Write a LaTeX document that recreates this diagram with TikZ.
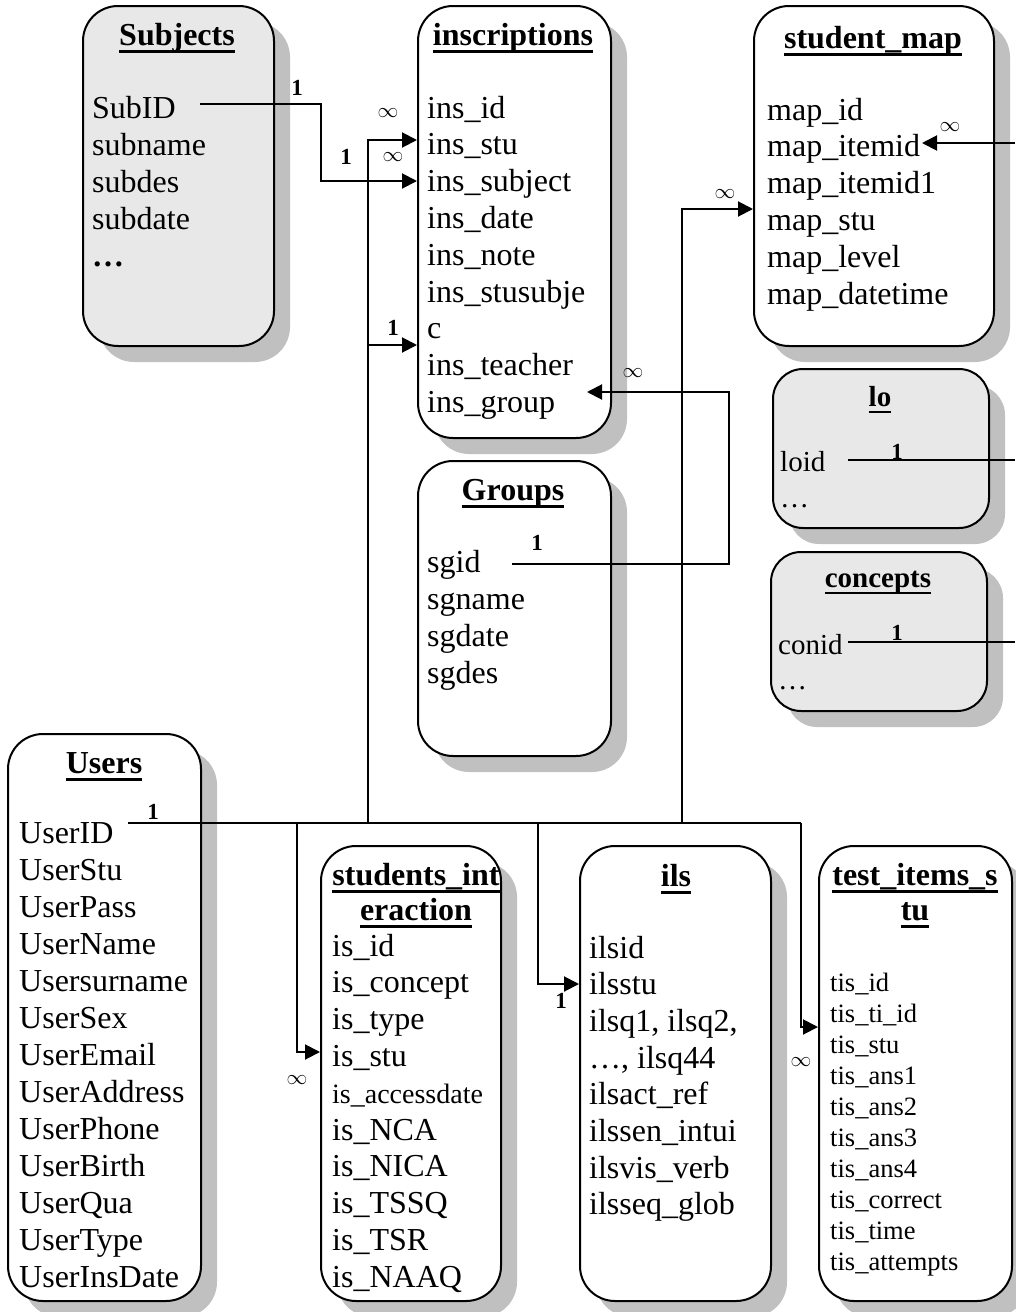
\documentclass[tikz,border=0pt]{standalone}
\usepackage{fontspec}
\setmainfont{Liberation Serif}
\usetikzlibrary{arrows.meta,shadows}
\definecolor{shade}{HTML}{C0C0C0}
\definecolor{lightfill}{HTML}{E8E8E8}
\newcommand{\ult}[1]{\setbox0\hbox{#1}\rlap{\rule[-0.24em]{\wd0}{0.08em}}\box0}
\begin{document}
\begin{tikzpicture}[x=1pt,y=-1pt,
 tbl/.style={draw=black, line width=2pt, rounded corners=35pt, fill=white, anchor=north west, inner sep=0pt,
   drop shadow={shadow xshift=16pt,shadow yshift=-16pt,fill=shade,opacity=1}},
 ttl/.style={anchor=base, inner sep=0pt, font=\fontsize{32}{36}\selectfont\bfseries},
 sttl/.style={anchor=base, inner sep=0pt, font=\fontsize{29}{33}\selectfont\bfseries},
 fld/.style={anchor=base west, inner sep=0pt, font=\fontsize{32}{36}\selectfont},
 sfld/.style={anchor=base west, inner sep=0pt, font=\fontsize{29}{33}\selectfont},
 tfld/.style={anchor=base west, inner sep=0pt, font=\fontsize{26.5}{30}\selectfont},
 one/.style={inner sep=0pt, font=\fontsize{23}{26}\selectfont\bfseries},
 many/.style={inner sep=0pt, font=\fontsize{20}{22}\selectfont},
 conn/.style={line width=2pt},
 arr/.style={conn, -{Triangle[length=15pt,width=15pt]}}
]
\useasboundingbox[fill=white] (0,0) rectangle (1015,1312);

% ---------- tables ----------
\node[tbl, fill=lightfill, minimum width=191pt, minimum height=340pt] (subj) at (82,5) {};
\node[tbl, minimum width=193pt, minimum height=432pt] (insc) at (417,5) {};
\node[tbl, minimum width=240pt, minimum height=340pt] (smap) at (753,5) {};
\node[tbl, fill=lightfill, rounded corners=30pt, minimum width=216pt, minimum height=159pt] (lo) at (772,368) {};
\node[tbl, fill=lightfill, rounded corners=30pt, minimum width=216pt, minimum height=159pt] (conc) at (770,551) {};
\node[tbl, minimum width=193pt, minimum height=295pt] (grp) at (417,460) {};
\node[tbl, minimum width=193pt, minimum height=567pt] (users) at (7,733) {};
\node[tbl, minimum width=180pt, minimum height=455pt] (sint) at (320,845) {};
\node[tbl, minimum width=191pt, minimum height=455pt] (ils) at (579,845) {};
\node[tbl, minimum width=193pt, minimum height=455pt] (tis) at (818,845) {};

% ---------- titles ----------
\node[ttl] (subjT) at (177,45) {\ult{Subjects}};
\node[ttl] (inscT) at (513,45) {\ult{inscriptions}};
\node[ttl] (smapT) at (873,48) {\ult{student\_map}};
\node[sttl] (loT) at (880,406) {\ult{lo}};
\node[sttl] (concT) at (878,587) {\ult{concepts}};
\node[ttl] (grpT) at (513,500) {\ult{Groups}};
\node[ttl] (usersT) at (104,773) {\ult{Users}};
\node[ttl] (sintT) at (416,885) {\ult{students\_int}};
\node[ttl] (sintT2) at (416,920) {\ult{eraction}};
\node[ttl] (ilsT) at (676,886) {\ult{ils}};
\node[ttl] (tisT) at (915,885) {\ult{test\_items\_s}};
\node[ttl] (tisT2) at (915,920) {\ult{tu}};

% ---------- fields ----------
\foreach \t [count=\i] in {SubID,subname,subdes,subdate,\textbf{…}}
  \node[fld] (sub\i) at (92,{118+(\i-1)*37}) {\t};
\foreach \t [count=\i] in {ins\_id,ins\_stu,ins\_subject,ins\_date,ins\_note,ins\_stusubje,c,ins\_teacher,ins\_group}
  \node[fld] (ins\i) at (427,{118+(\i-1)*36.8}) {\t};
\foreach \t [count=\i] in {map\_id,map\_itemid,map\_itemid1,map\_stu,map\_level,map\_datetime}
  \node[fld] (map\i) at (767,{120+(\i-1)*36.8}) {\t};
\node[sfld] (lo1) at (780,471) {loid};
\node[sfld] (lo2) at (780,507) {…};
\node[sfld] (con1) at (778,654) {conid};
\node[sfld] (con2) at (778,689) {…};
\foreach \t [count=\i] in {sgid,sgname,sgdate,sgdes}
  \node[fld] (sg\i) at (427,{572+(\i-1)*37}) {\t};
\foreach \t [count=\i] in {UserID,UserStu,UserPass,UserName,Usersurname,UserSex,UserEmail,UserAddress,UserPhone,UserBirth,UserQua,UserType,UserInsDate}
  \node[fld] (us\i) at (19,{843+(\i-1)*37}) {\t};
\foreach \t [count=\i] in {is\_id,is\_concept,is\_type,is\_stu,{\fontsize{28}{32}\selectfont is\_accessdate},is\_NCA,is\_NICA,is\_TSSQ,is\_TSR,is\_NAAQ}
  \node[fld] (is\i) at (332,{956+(\i-1)*36.8}) {\t};
\foreach \t [count=\i] in {ilsid,ilsstu,{ilsq1, ilsq2,},{…, ilsq44},ilsact\_ref,ilssen\_intui,ilsvis\_verb,ilsseq\_glob}
  \node[fld] (il\i) at (589,{958+(\i-1)*36.7}) {\t};
\foreach \t [count=\i] in {tis\_id,tis\_ti\_id,tis\_stu,tis\_ans1,tis\_ans2,tis\_ans3,tis\_ans4,tis\_correct,tis\_time,tis\_attempts}
  \node[tfld] (ti\i) at (830,{991+(\i-1)*31.1}) {\t};

% ---------- connector points ----------
\coordinate (a1) at (200,104);  \coordinate (a2) at (321,104);
\coordinate (a3) at (321,181);  \coordinate (a4) at (417,181);
\coordinate (u0) at (128,823);  \coordinate (u1) at (297,823);
\coordinate (u2) at (368,823);  \coordinate (u3) at (538,823);
\coordinate (u4) at (682,823);  \coordinate (u5) at (801,823);
\coordinate (p1) at (297,1052); \coordinate (q1) at (320,1052);
\coordinate (p2) at (368,140);  \coordinate (q2) at (417,140);
\coordinate (p2b) at (368,345); \coordinate (q2b) at (417,345);
\coordinate (p3) at (538,984);  \coordinate (q3) at (579,984);
\coordinate (p4) at (682,209);  \coordinate (q4) at (753,209);
\coordinate (p5) at (801,1027); \coordinate (q5) at (818,1027);
\coordinate (g0) at (512,564);  \coordinate (g1) at (729,564);
\coordinate (g2) at (729,392);  \coordinate (g3) at (587,392);
\coordinate (m0) at (1015,143); \coordinate (m1) at (922,143);
\coordinate (l0) at (848,460);  \coordinate (l1) at (1015,460);
\coordinate (k0) at (848,642);  \coordinate (k1) at (1015,642);

% ---------- connectors ----------
\draw[arr] (a1) -- (a2) -- (a3) -- (a4);
\draw[conn] (u0) -- (u5);
\draw[arr] (u1) -- (p1) -- (q1);
\draw[arr] (u2) -- (p2) -- (q2);
\draw[arr] (p2b) -- (q2b);
\draw[arr] (u3) -- (p3) -- (q3);
\draw[arr] (u4) -- (p4) -- (q4);
\draw[arr] (u5) -- (p5) -- (q5);
\draw[arr] (g0) -- (g1) -- (g2) -- (g3);
\draw[arr] (m0) -- (m1);
\draw[conn] (l0) -- (l1);
\draw[conn] (k0) -- (k1);

% ---------- cardinality labels ----------
\node[one] (n1) at (297,88) {1};
\node[one] (n2) at (346,157) {1};
\node[one] (n3) at (393,328) {1};
\node[one] (n4) at (153,812) {1};
\node[one] (n5) at (561,1001) {1};
\node[one] (n6) at (537,543) {1};
\node[one] (n7) at (897,452) {1};
\node[one] (n8) at (897,633) {1};
\node[many] (m1l) at (388,113) {$\infty$};
\node[many] (m2l) at (393,157) {$\infty$};
\node[many] (m3l) at (725,194) {$\infty$};
\node[many] (m4l) at (633,373) {$\infty$};
\node[many] (m5l) at (950,127) {$\infty$};
\node[many] (m6l) at (297,1080) {$\infty$};
\node[many] (m7l) at (801,1062) {$\infty$};
\end{tikzpicture}
\end{document}
